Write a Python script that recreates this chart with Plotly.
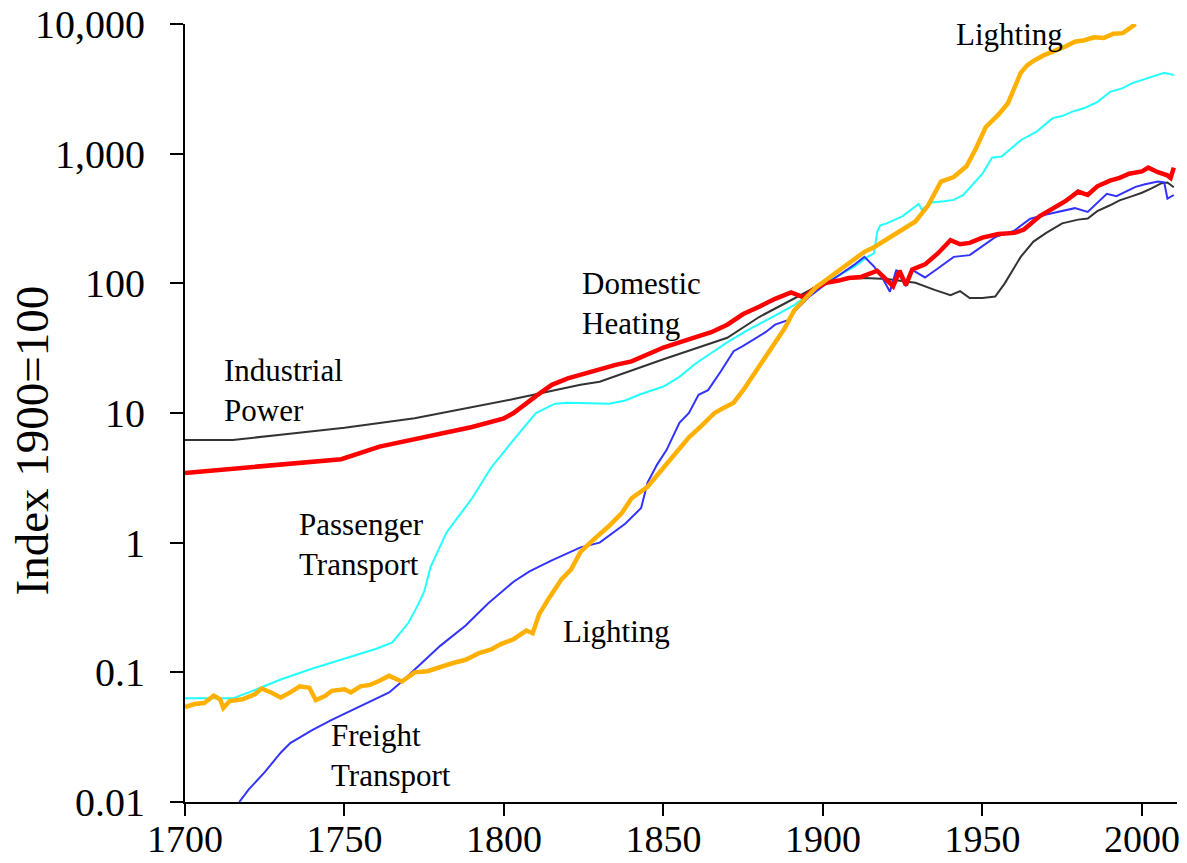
import numpy as np
import plotly.graph_objects as go

# ---------------- data ----------------
ind_years = [1700, 1715, 1730, 1750, 1772, 1793, 1803, 1824, 1830, 1850, 1870, 1880, 1892, 1900,
             1909, 1913, 1920, 1929, 1935, 1940, 1943, 1946, 1950, 1954, 1957, 1962, 1966, 1970,
             1975, 1980, 1983, 1986, 1990, 1993, 1997, 2000, 2003, 2006, 2008, 2010]
ind_vals = [6.2, 6.2, 6.8, 7.7, 9.1, 11.5, 12.8, 16.5, 17.4, 26, 38, 55, 79, 100,
            109, 110, 108, 101, 89, 81, 87, 77, 77, 79, 100, 160, 210, 245,
            290, 310, 316, 360, 400, 436, 470, 500, 540, 590, 600, 550]

heat_years = [1700, 1720, 1735, 1749, 1761, 1775, 1790, 1800, 1803, 1810, 1815, 1820, 1825, 1830,
              1835, 1840, 1845, 1850, 1855, 1860, 1865, 1870, 1875, 1880, 1885, 1890, 1894, 1897,
              1901, 1905, 1908, 1912, 1917, 1919, 1922, 1924, 1926, 1928, 1932, 1936, 1940, 1943,
              1946, 1950, 1955, 1960, 1963, 1968, 1972, 1976, 1980, 1983, 1986, 1990, 1993, 1996,
              2000, 2002, 2005, 2008, 2009, 2010]
heat_vals = [3.45, 3.8, 4.1, 4.4, 5.5, 6.5, 7.8, 9.1, 10, 13.5, 16.5, 18.5, 20, 22,
             23.5, 25, 28, 32, 35, 38, 42, 48, 58, 66, 76, 85, 78, 90,
             101, 105, 110, 112, 125, 112, 95, 125, 97, 128, 140, 170, 215, 200,
             205, 225, 240, 245, 260, 330, 380, 430, 510, 480, 560, 620, 650, 700,
             730, 780, 720, 680, 650, 780]

pass_years = [1700, 1715, 1720, 1730, 1740, 1750, 1760, 1765, 1770, 1773, 1775, 1777, 1782, 1790,
              1796, 1803, 1810, 1816, 1820, 1833, 1838, 1843, 1850, 1855, 1860, 1865, 1870, 1876,
              1882, 1887, 1891, 1895, 1900, 1905, 1910, 1914, 1916, 1917, 1918, 1920, 1925, 1930,
              1931, 1934, 1938, 1941, 1944, 1947, 1950, 1953, 1956, 1960, 1962, 1967, 1972, 1975,
              1978, 1982, 1986, 1990, 1994, 1997, 2000, 2004, 2007, 2010]
pass_vals = [0.063, 0.063, 0.07, 0.088, 0.107, 0.128, 0.152, 0.17, 0.24, 0.33, 0.42, 0.65, 1.2, 2.2,
             3.8, 6.2, 10, 11.8, 12, 11.8, 12.5, 14, 16, 19, 24, 29, 35, 43,
             52, 60, 68, 80, 100, 115, 135, 160, 170, 250, 280, 290, 330, 410,
             370, 420, 430, 440, 480, 575, 700, 930, 950, 1150, 1270, 1480, 1880, 1950,
             2100, 2250, 2500, 3000, 3200, 3500, 3700, 4000, 4200, 4050]

frt_years = [1717, 1720, 1725, 1730, 1733, 1740, 1746, 1755, 1764, 1768, 1772, 1780, 1788, 1795,
             1803, 1808, 1815, 1824, 1830, 1838, 1843, 1845, 1848, 1851, 1855, 1858, 1861, 1864,
             1868, 1872, 1875, 1879, 1882, 1885, 1889, 1892, 1896, 1900, 1905, 1910, 1913, 1916,
             1919, 1921, 1923, 1926, 1928, 1932, 1936, 1941, 1946, 1950, 1954, 1960, 1965, 1970,
             1975, 1979, 1983, 1986, 1989, 1992, 1995, 1998, 2001, 2005, 2007, 2008, 2010]
frt_vals = [0.0100, 0.0125, 0.017, 0.024, 0.0285, 0.036, 0.043, 0.055, 0.07, 0.085, 0.105, 0.16, 0.23, 0.34,
            0.5, 0.6, 0.73, 0.92, 1.0, 1.4, 1.85, 2.9, 4.0, 5.2, 8.4, 10, 13.8, 15,
            21, 30, 33, 38, 42, 48, 52, 64, 80, 95, 115, 140, 160, 135,
            106, 86, 127, 95, 127, 111, 130, 160, 165, 195, 227, 255, 315, 340,
            360, 380, 355, 420, 490, 470, 510, 555, 580, 610, 600, 450, 480]

light_years = [1700, 1703, 1706, 1709, 1711, 1712, 1714, 1718, 1722, 1724, 1727, 1730, 1733, 1736,
               1739, 1741, 1744, 1746, 1750, 1752, 1755, 1758, 1761, 1764, 1768, 1772, 1776, 1780,
               1784, 1788, 1792, 1796, 1799, 1803, 1807, 1809, 1811, 1814, 1818, 1821, 1824, 1828,
               1833, 1837, 1840, 1845, 1850, 1854, 1858, 1862, 1866, 1869, 1872, 1875, 1879, 1882,
               1885, 1888, 1891, 1894, 1898, 1900, 1904, 1908, 1913, 1916, 1920, 1925, 1929, 1933,
               1937, 1941, 1945, 1948, 1951, 1955, 1958, 1960, 1962, 1964, 1966, 1969, 1972, 1976,
               1979, 1982, 1985, 1988, 1991, 1994, 1996, 1998]
light_vals = [0.054, 0.057, 0.058, 0.066, 0.062, 0.053, 0.06, 0.062, 0.068, 0.075, 0.07, 0.064, 0.07, 0.078,
              0.076, 0.061, 0.066, 0.072, 0.074, 0.07, 0.078, 0.08, 0.086, 0.094, 0.085, 0.1, 0.102, 0.11,
              0.118, 0.125, 0.14, 0.15, 0.165, 0.18, 0.21, 0.2, 0.28, 0.37, 0.52, 0.62, 0.85, 1.05,
              1.35, 1.7, 2.2, 2.7, 3.8, 4.9, 6.5, 8, 10, 11, 12, 15, 21, 27,
              35, 45, 62, 75, 94, 102, 120, 140, 175, 190, 220, 260, 300, 400,
              610, 660, 800, 1100, 1600, 2000, 2450, 3200, 4200, 4800, 5200, 5700, 6100, 6700,
              7300, 7500, 7900, 7800, 8400, 8500, 9200, 10000]

y_tick_vals = [0.01, 0.1, 1, 10, 100, 1000, 10000]
y_tick_text = ["0.01", "0.1", "1", "10", "100", "1,000", "10,000"]
x_tick_vals = [1700, 1750, 1800, 1850, 1900, 1950, 2000]
x_tick_text = ["1700", "1750", "1800", "1850", "1900", "1950", "2000"]

label_texts = ["Industrial<br>Power", "Domestic<br>Heating", "Passenger<br>Transport",
               "Lighting", "Freight<br>Transport", "Lighting"]
label_years = [1711.5, 1823.8, 1735.0, 1817.9, 1745.0, 1941.0]
label_vals = [15.0, 70.5, 0.96, 0.205, 0.023, 8230]

# ---------------- figure ----------------
fig = go.Figure()
series = [
    ("Industrial Power", ind_years, ind_vals, "#333333", 2),
    ("Passenger Transport", pass_years, pass_vals, "#22FFFF", 2),
    ("Freight Transport", frt_years, frt_vals, "#3333FF", 2),
    ("Domestic Heating", heat_years, heat_vals, "#FF0000", 4.5),
    ("Lighting", light_years, light_vals, "#FFB000", 4.5),
]
for name, xs, ys, col, w in series:
    fig.add_trace(go.Scatter(x=xs, y=ys, mode="lines", name=name,
                             line=dict(color=col, width=w), showlegend=False,
                             cliponaxis=False, hoverinfo="skip"))

font_family = "Liberation Serif, Times New Roman, serif"
for t, yr, v in zip(label_texts, label_years, label_vals):
    fig.add_annotation(x=yr, y=np.log10(v), text=t, showarrow=False, xanchor="left",
                       yanchor="middle", align="left",
                       font=dict(family=font_family, size=31, color="black"))

fig.add_annotation(xref="paper", yref="paper", x=-0.154, y=0.465, text="Index 1900=100",
                   textangle=-90, showarrow=False, xanchor="center", yanchor="middle",
                   font=dict(family=font_family, size=47, color="black"))

fig.update_layout(
    width=1187, height=863,
    margin=dict(l=185, r=10, t=24, b=61, autoexpand=False),
    paper_bgcolor="white", plot_bgcolor="white",
    font=dict(family=font_family, color="black"),
)
fig.update_xaxes(range=[1700, 2011], tickvals=x_tick_vals, ticktext=x_tick_text,
                 automargin=False,
                 showgrid=False, zeroline=False, showline=True, linecolor="black", linewidth=2,
                 ticks="outside", ticklen=12, tickwidth=2, tickcolor="black",
                 tickfont=dict(family=font_family, size=38, color="black"),
                 ticklabelstandoff=-10)
fig.update_yaxes(type="log", range=[-2, 4], tickvals=y_tick_vals, ticktext=y_tick_text,
                 automargin=False,
                 showgrid=False, zeroline=False, showline=True, linecolor="black", linewidth=2,
                 ticks="outside", ticklen=13, tickwidth=2, tickcolor="black",
                 tickfont=dict(family=font_family, size=40, color="black"),
                 ticklabelstandoff=17)

fig.write_html("out.html", config={"displayModeBar": False},
               post_script="document.body.style.margin='0px';document.body.style.overflow='hidden';")
